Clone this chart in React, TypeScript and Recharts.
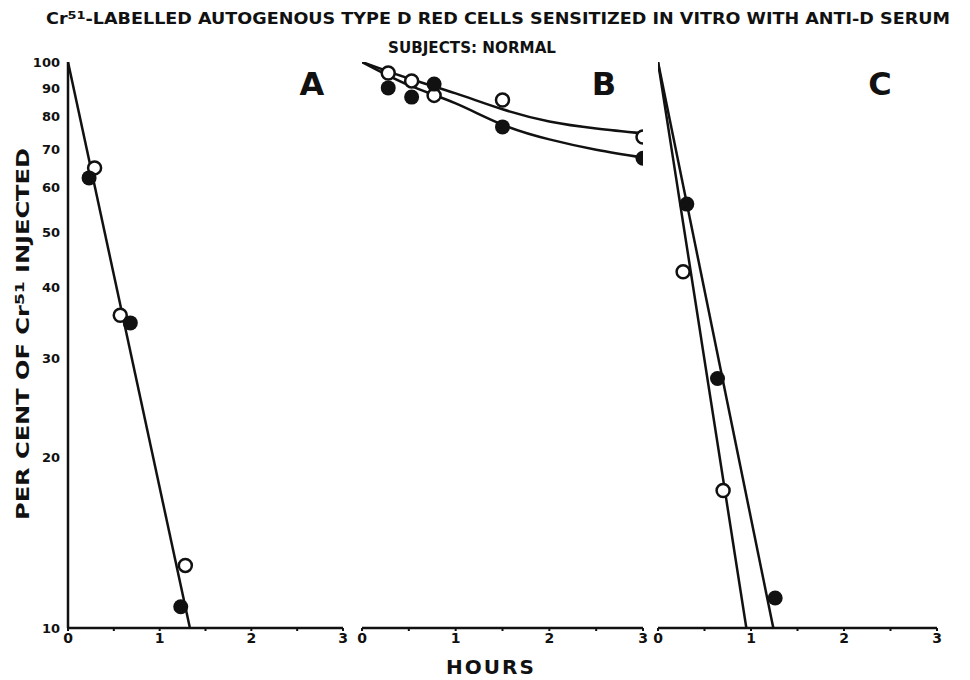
import React from "react";
import { ComposedChart, Line, Scatter, XAxis, YAxis } from "recharts";

// hours after injection vs per cent of Cr51 still circulating
const X_TICKS = [0, 0.5, 1, 1.5, 2, 2.5, 3];
const Y_TICKS = [10, 20, 30, 40, 50, 60, 70, 80, 90, 100];

// panel A
const aLine = [{ h: 0, pct: 100 }, { h: 1.33, pct: 10 }];
const aOpen = [{ h: 0.29, pct: 65 }, { h: 0.57, pct: 35.7 }, { h: 1.28, pct: 12.9 }];
const aFilled = [{ h: 0.23, pct: 62.4 }, { h: 0.68, pct: 34.6 }, { h: 1.23, pct: 10.9 }];

// panel B
const bUpper = [
  { h: 0, pct: 100 }, { h: 0.5, pct: 93.5 }, { h: 1, pct: 88 }, { h: 1.5, pct: 82.5 },
  { h: 2, pct: 78.5 }, { h: 2.5, pct: 76.3 }, { h: 3, pct: 74.8 },
];
const bLower = [
  { h: 0, pct: 100 }, { h: 0.5, pct: 91 }, { h: 1, pct: 84.5 }, { h: 1.5, pct: 77.5 },
  { h: 2, pct: 73 }, { h: 2.5, pct: 70 }, { h: 3, pct: 67.8 },
];
const bOpen = [
  { h: 0.28, pct: 95.6 }, { h: 0.53, pct: 92.6 }, { h: 0.77, pct: 87.3 },
  { h: 1.5, pct: 85.7 }, { h: 3, pct: 73.7 },
];
const bFilled = [
  { h: 0.28, pct: 90 }, { h: 0.53, pct: 86.7 }, { h: 0.77, pct: 91.4 },
  { h: 1.5, pct: 76.8 }, { h: 3, pct: 67.6 },
];

// panel C
const cSteep = [{ h: 0, pct: 100 }, { h: 0.95, pct: 10 }];
const cShallow = [{ h: 0, pct: 100 }, { h: 1.24, pct: 10 }];
const cOpen = [{ h: 0.27, pct: 42.6 }, { h: 0.7, pct: 17.5 }];
const cFilled = [{ h: 0.31, pct: 56.1 }, { h: 0.64, pct: 27.6 }, { h: 1.26, pct: 11.3 }];

const INK = "#111";
const FONT = "'DejaVu Sans', 'Liberation Sans', sans-serif";

const OpenDot = (p: any) => (
  <circle cx={p.cx} cy={p.cy} r={6.5} fill="#fff" stroke={INK} strokeWidth={2.5} />
);
const FilledDot = (p: any) => <circle cx={p.cx} cy={p.cy} r={7.5} fill={INK} />;

type PanelProps = {
  left: number;
  width: number;
  ml: number;
  mr: number;
  lines: { h: number; pct: number }[][];
  curved?: boolean;
  open: { h: number; pct: number }[];
  filled: { h: number; pct: number }[];
  showY?: boolean;
};

function Panel({ left, width, ml, mr, lines, curved, open, filled, showY }: PanelProps) {
  return (
    <div style={{ position: "absolute", left, top: 0 }}>
      <ComposedChart width={width} height={680} margin={{ top: 62, right: mr, bottom: 22, left: ml }}>
        <XAxis
          type="number"
          dataKey="h"
          domain={[0, 3]}
          ticks={X_TICKS}
          tickFormatter={(v: number) => (v % 1 === 0 ? String(v) : "")}
          height={30}
          stroke={INK}
          axisLine={{ stroke: INK, strokeWidth: 2.5 }}
          tickLine={{ stroke: INK, strokeWidth: 2 }}
          tickSize={3}
          tick={{ fill: INK, fontSize: 14, fontWeight: 700, fontFamily: FONT }}
          allowDataOverflow
        />
        <YAxis
          type="number"
          dataKey="pct"
          scale="log"
          domain={[10, 100]}
          ticks={Y_TICKS}
          width={showY ? 60 : 0}
          tick={showY ? { fill: INK, fontSize: 13, fontWeight: 700, fontFamily: FONT } : false}
          tickLine={false}
          tickMargin={2}
          axisLine={{ stroke: INK, strokeWidth: 2.5 }}
          allowDataOverflow
        />
        {lines.map((d, i) => (
          <Line
            key={i}
            data={d}
            dataKey="pct"
            type={curved ? "natural" : "linear"}
            stroke={INK}
            strokeWidth={2.5}
            dot={false}
            isAnimationActive={false}
          />
        ))}
        <Scatter data={open} dataKey="pct" shape={OpenDot} isAnimationActive={false} />
        <Scatter data={filled} dataKey="pct" shape={FilledDot} isAnimationActive={false} />
      </ComposedChart>
    </div>
  );
}

export default function App() {
  return (
    <div style={{ position: "absolute", left: 0, top: 0, width: 970, height: 680, background: "#fff" }}>
      <Panel left={0} width={360} ml={8} mr={17} lines={[aLine]} open={aOpen} filled={aFilled} showY />
      <Panel left={350} width={310} ml={12} mr={17} lines={[bUpper, bLower]} curved open={bOpen} filled={bFilled} />
      <Panel left={645} width={310} ml={13} mr={18} lines={[cSteep, cShallow]} open={cOpen} filled={cFilled} />
      <svg
        width={970}
        height={680}
        style={{ position: "absolute", left: 0, top: 0, pointerEvents: "none" }}
        fontFamily={FONT}
        fontWeight={700}
        fill={INK}
      >
        <text x={46} y={24} fontSize={15} textLength={904} lengthAdjust="spacingAndGlyphs">
          Cr<tspan dy={-5} fontSize={11}>51</tspan>
          <tspan dy={5}>-LABELLED  AUTOGENOUS  TYPE D  RED  CELLS   SENSITIZED  IN  VITRO  WITH  ANTI-D  SERUM</tspan>
        </text>
        <text x={472} y={53} fontSize={15} textAnchor="middle" textLength={168} lengthAdjust="spacingAndGlyphs">
          SUBJECTS: NORMAL
        </text>
        <text x={312} y={95} fontSize={32} textAnchor="middle">A</text>
        <text x={604} y={95} fontSize={32} textAnchor="middle">B</text>
        <text x={880} y={95} fontSize={32} textAnchor="middle">C</text>
        <text x={491} y={674} fontSize={20} textAnchor="middle" letterSpacing={2}>HOURS</text>
        <text
          transform="translate(29 334) rotate(-90)"
          fontSize={17}
          textAnchor="middle"
          textLength={372}
          lengthAdjust="spacingAndGlyphs"
        >
          PER CENT OF Cr<tspan dy={-5} fontSize={12}>51</tspan>
          <tspan dy={5}>  INJECTED</tspan>
        </text>
      </svg>
    </div>
  );
}
